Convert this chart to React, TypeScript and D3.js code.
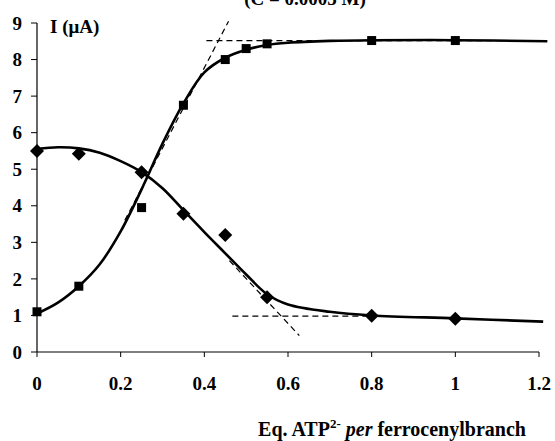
import React from "react";
import * as d3 from "d3";

const W = 555;
const H = 441;

// Data
const squareX = [0, 0.1, 0.25, 0.35, 0.45, 0.5, 0.55, 0.8, 1.0];
const squareY = [1.1, 1.8, 3.95, 6.75, 8.0, 8.3, 8.43, 8.52, 8.52];
const diamondX = [0, 0.1, 0.25, 0.35, 0.45, 0.55, 0.8, 1.0];
const diamondY = [5.5, 5.42, 4.92, 3.78, 3.2, 1.5, 0.99, 0.91];

const squareFitX = [0, 0.05, 0.1, 0.15, 0.2, 0.25, 0.3, 0.35, 0.4, 0.45, 0.5, 0.55, 0.6, 0.7, 0.8, 1.0, 1.22];
const squareFitY = [1.05, 1.35, 1.8, 2.4, 3.3, 4.45, 5.7, 6.8, 7.65, 8.05, 8.27, 8.4, 8.46, 8.51, 8.53, 8.53, 8.5];
const diamondFitX = [0, 0.05, 0.1, 0.15, 0.2, 0.25, 0.3, 0.35, 0.4, 0.45, 0.5, 0.55, 0.6, 0.7, 0.8, 1.0, 1.21];
const diamondFitY = [5.55, 5.6, 5.57, 5.45, 5.22, 4.92, 4.48, 3.88, 3.28, 2.7, 2.12, 1.58, 1.3, 1.1, 1.0, 0.92, 0.83];

// Tangent (dashed) lines: [x1, y1, x2, y2]
const tangentLines = [
  [0.405, 8.52, 1.2, 8.52],
  [0.21, 3.6, 0.458, 9.05],
  [0.467, 0.98, 0.8, 0.98],
  [0.46, 2.5, 0.627, 0.45],
];

const xTicks = [0, 0.2, 0.4, 0.6, 0.8, 1, 1.2];
const yTicks = [0, 1, 2, 3, 4, 5, 6, 7, 8, 9];

const FONT = "'Liberation Serif', 'DejaVu Serif', 'Times New Roman', serif";

export default function App() {
  const x = d3.scaleLinear().domain([0, 1.2]).range([37, 539]);
  const y = d3.scaleLinear().domain([0, 9]).range([352, 23]);

  const line = d3
    .line<[number, number]>()
    .x((d) => x(d[0]))
    .y((d) => y(d[1]))
    .curve(d3.curveCatmullRom.alpha(0.5));

  const sqFit = squareFitX.map((v, i) => [v, squareFitY[i]] as [number, number]);
  const diFit = diamondFitX.map((v, i) => [v, diamondFitY[i]] as [number, number]);

  const sq = 9;
  const dm = 7;
  const ts: React.CSSProperties = { fontFamily: FONT, fontWeight: "bold" };

  return (
    <svg
      width={W}
      height={H}
      style={{ position: "absolute", left: 0, top: 0, background: "#fff", fontFamily: FONT }}
    >
      <rect x={0} y={0} width={W} height={H} fill="#fff" />
      {/* title, cropped at the top edge as in the source */}
      <text x={305} y={5} textAnchor="middle" fontSize={19} style={ts}>
        (C = 0.0005 M)
      </text>

      {/* axes */}
      <line x1={x(0)} x2={x(0)} y1={y(9)} y2={y(0)} stroke="#000" strokeWidth={1.2} />
      <line x1={x(0)} x2={x(1.2)} y1={y(0)} y2={y(0)} stroke="#000" strokeWidth={1.2} />
      {yTicks.map((t) => (
        <g key={"y" + t}>
          <line x1={x(0) - 6} x2={x(0)} y1={y(t)} y2={y(t)} stroke="#000" strokeWidth={1} />
          <text x={22} y={y(t)} dy="0.35em" textAnchor="end" fontSize={19} style={ts}>
            {t}
          </text>
        </g>
      ))}
      {xTicks.map((t) => (
        <g key={"x" + t}>
          <line x1={x(t)} x2={x(t)} y1={y(0)} y2={y(0) + 5} stroke="#000" strokeWidth={1} />
          <text x={x(t)} y={390} textAnchor="middle" fontSize={19} style={ts}>
            {t}
          </text>
        </g>
      ))}

      {/* dashed tangents */}
      {tangentLines.map((l, i) => (
        <line
          key={"t" + i}
          x1={x(l[0])}
          y1={y(l[1])}
          x2={x(l[2])}
          y2={y(l[3])}
          stroke="#000"
          strokeWidth={1.2}
          strokeDasharray="6,4"
        />
      ))}

      {/* fitted curves */}
      <path d={line(sqFit) || ""} fill="none" stroke="#000" strokeWidth={2.6} />
      <path d={line(diFit) || ""} fill="none" stroke="#000" strokeWidth={2.6} />

      {/* markers */}
      {squareX.map((v, i) => (
        <rect
          key={"s" + i}
          x={x(v) - sq / 2}
          y={y(squareY[i]) - sq / 2}
          width={sq}
          height={sq}
          fill="#000"
        />
      ))}
      {diamondX.map((v, i) => {
        const cx = x(v);
        const cy = y(diamondY[i]);
        return (
          <path
            key={"d" + i}
            d={`M${cx},${cy - dm}L${cx + dm},${cy}L${cx},${cy + dm}L${cx - dm},${cy}Z`}
            fill="#000"
          />
        );
      })}

      {/* labels */}
      <text x={50} y={33} fontSize={19} style={ts}>
        I (μA)
      </text>
      <text x={392} y={436} textAnchor="middle" fontSize={20} style={ts}>
        Eq. ATP
        <tspan fontSize={13} dy={-8}>2-</tspan>
        <tspan dy={8} fontStyle="italic"> per</tspan>
        <tspan> ferrocenylbranch</tspan>
      </text>
    </svg>
  );
}
